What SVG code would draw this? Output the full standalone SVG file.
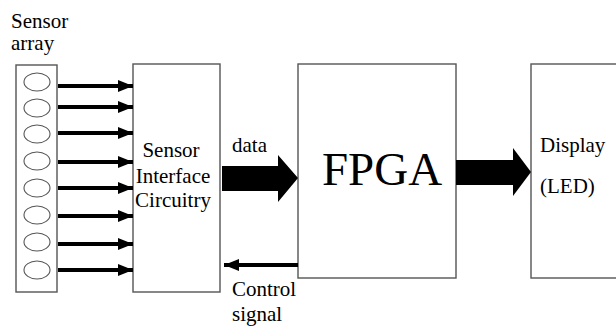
<svg xmlns="http://www.w3.org/2000/svg" width="616" height="326" viewBox="0 0 616 326">
  <defs>
    <style>
      .box { fill: #fff; stroke: #555; stroke-width: 1.4; }
      .cell { fill: #fff; stroke: #555; stroke-width: 1.1; }
      .wire { stroke: #000; stroke-width: 4; fill: none; }
      .bus { fill: #000; stroke: none; }
      text { font-family: "Liberation Serif", "Times New Roman", serif; font-size: 21px; fill: #000; }
    </style>
    <marker id="tip" markerUnits="userSpaceOnUse" markerWidth="16" markerHeight="16" refX="15" refY="8" orient="auto">
      <path d="M0,2 L15,8 L0,14 Z" fill="#000"/>
    </marker>
  </defs>
  <rect width="616" height="326" fill="#fff"/>

  <!-- sensor array column -->
  <g id="sensor-array">
    <text x="11" y="28">Sensor</text>
    <text x="11" y="50">array</text>
    <rect class="box" x="16" y="65" width="41" height="227"/>
    <ellipse class="cell" cx="37" cy="82" rx="13" ry="9"/>
    <ellipse class="cell" cx="37" cy="108" rx="13" ry="9"/>
    <ellipse class="cell" cx="37" cy="134" rx="13" ry="9"/>
    <ellipse class="cell" cx="37" cy="161" rx="13" ry="9"/>
    <ellipse class="cell" cx="37" cy="188" rx="13" ry="9"/>
    <ellipse class="cell" cx="37" cy="215" rx="13" ry="9"/>
    <ellipse class="cell" cx="37" cy="242" rx="13" ry="9"/>
    <ellipse class="cell" cx="37" cy="270" rx="13" ry="9"/>
  </g>

  <!-- interface block -->
  <g id="interface">
    <rect class="box" x="133" y="64" width="87" height="228"/>
    <text x="171" y="157" text-anchor="middle">Sensor</text>
    <text x="173" y="183" text-anchor="middle">Interface</text>
    <text x="173" y="207" text-anchor="middle">Circuitry</text>
  </g>

  <!-- FPGA block -->
  <g id="fpga">
    <rect class="box" x="298" y="64" width="158" height="214"/>
    <text x="382" y="185" text-anchor="middle" style="font-size:47px">FPGA</text>
  </g>

  <!-- display block -->
  <g id="display">
    <rect class="box" x="531" y="64" width="90" height="214"/>
    <text x="540" y="152">Display</text>
    <text x="540" y="193">(LED)</text>
  </g>

  <!-- connectors -->
  <g id="connectors">
    <line class="wire" x1="58" y1="86" x2="133" y2="86" marker-end="url(#tip)"/>
    <line class="wire" x1="58" y1="107" x2="133" y2="107" marker-end="url(#tip)"/>
    <line class="wire" x1="58" y1="133" x2="133" y2="133" marker-end="url(#tip)"/>
    <line class="wire" x1="58" y1="162" x2="133" y2="162" marker-end="url(#tip)"/>
    <line class="wire" x1="58" y1="188" x2="133" y2="188" marker-end="url(#tip)"/>
    <line class="wire" x1="58" y1="216" x2="133" y2="216" marker-end="url(#tip)"/>
    <line class="wire" x1="58" y1="244" x2="133" y2="244" marker-end="url(#tip)"/>
    <line class="wire" x1="58" y1="270" x2="133" y2="270" marker-end="url(#tip)"/>

    <!-- data bus -->
    <path class="bus" d="M222,166 L278,166 L278,155 L298,178 L278,202 L278,191 L222,191 Z"/>
    <text x="232" y="152">data</text>

    <!-- output bus -->
    <path class="bus" d="M456,160 L513,160 L513,148 L531,172 L513,196 L513,185 L456,185 Z"/>

    <!-- control line -->
    <line class="wire" x1="298" y1="265" x2="224" y2="265" marker-end="url(#tip)"/>
    <text x="232" y="296">Control</text>
    <text x="232" y="321">signal</text>
  </g>
</svg>
